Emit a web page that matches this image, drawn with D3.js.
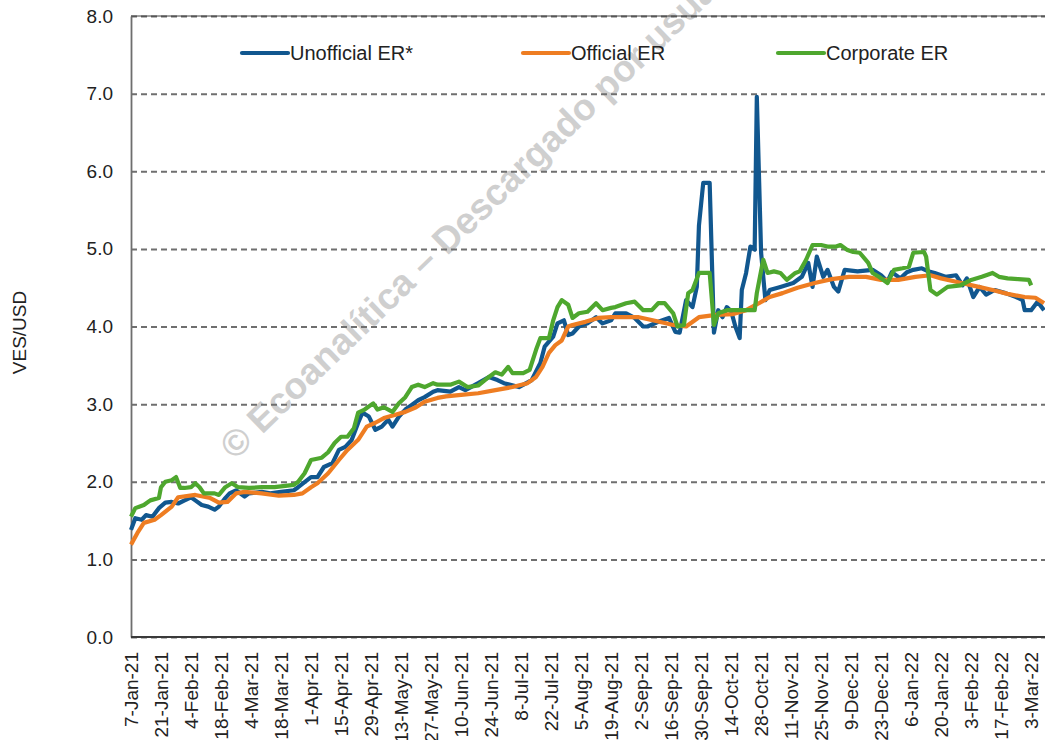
<!DOCTYPE html>
<html>
<head>
<meta charset="utf-8">
<script src="https://cdn.jsdelivr.net/npm/d3@7"></script>
<style>
  body { margin: 0; background: #fff; }
  svg { display: block; font-family: "Liberation Sans", Arial, sans-serif; }
</style>
</head>
<body>
<svg id="chart" width="1045" height="740"></svg>
<script>
// legend order = drawing order
const seriesNames = ["Unofficial ER*", "Official ER", "Corporate ER"];
const seriesColors = ["#11578f", "#ee7d22", "#4ea72e"];

const yTicks = [0, 1, 2, 3, 4, 5, 6, 7, 8];
const xTickDates = ["2021-01-07", "2021-01-21", "2021-02-04", "2021-02-18", "2021-03-04", "2021-03-18",
  "2021-04-01", "2021-04-15", "2021-04-29", "2021-05-13", "2021-05-27", "2021-06-10", "2021-06-24",
  "2021-07-08", "2021-07-22", "2021-08-05", "2021-08-19", "2021-09-02", "2021-09-16", "2021-09-30",
  "2021-10-14", "2021-10-28", "2021-11-11", "2021-11-25", "2021-12-09", "2021-12-23", "2022-01-06",
  "2022-01-20", "2022-02-03", "2022-02-17", "2022-03-03"];

const unofficialER = [
  ["2021-01-07", 1.38], ["2021-01-09", 1.53], ["2021-01-12", 1.51], ["2021-01-14", 1.57], ["2021-01-17", 1.55],
  ["2021-01-20", 1.66], ["2021-01-23", 1.73], ["2021-01-26", 1.74], ["2021-01-29", 1.72], ["2021-02-01", 1.76],
  ["2021-02-04", 1.80], ["2021-02-06", 1.76], ["2021-02-09", 1.70], ["2021-02-12", 1.68], ["2021-02-15", 1.64],
  ["2021-02-17", 1.68], ["2021-02-20", 1.79], ["2021-02-22", 1.85], ["2021-02-25", 1.89], ["2021-03-01", 1.81],
  ["2021-03-03", 1.85], ["2021-03-09", 1.87], ["2021-03-13", 1.85], ["2021-03-18", 1.87], ["2021-03-24", 1.89],
  ["2021-03-26", 1.93], ["2021-04-01", 2.06], ["2021-04-04", 2.06], ["2021-04-07", 2.19], ["2021-04-11", 2.24],
  ["2021-04-14", 2.41], ["2021-04-17", 2.45], ["2021-04-20", 2.54], ["2021-04-23", 2.76], ["2021-04-25", 2.89],
  ["2021-04-28", 2.84], ["2021-05-01", 2.67], ["2021-05-04", 2.71], ["2021-05-07", 2.80], ["2021-05-09", 2.71],
  ["2021-05-12", 2.84], ["2021-05-15", 2.93], ["2021-05-18", 2.99], ["2021-05-21", 3.05], ["2021-05-24", 3.09],
  ["2021-05-28", 3.16], ["2021-05-30", 3.18], ["2021-06-05", 3.16], ["2021-06-09", 3.22], ["2021-06-12", 3.18],
  ["2021-06-18", 3.27], ["2021-06-23", 3.35], ["2021-06-27", 3.31], ["2021-06-30", 3.27], ["2021-07-07", 3.22],
  ["2021-07-13", 3.31], ["2021-07-17", 3.53], ["2021-07-19", 3.74], ["2021-07-23", 3.87], ["2021-07-25", 4.04],
  ["2021-07-28", 4.08], ["2021-07-30", 3.89], ["2021-08-01", 3.91], ["2021-08-04", 4.00], ["2021-08-08", 4.04],
  ["2021-08-12", 4.12], ["2021-08-15", 4.04], ["2021-08-19", 4.08], ["2021-08-21", 4.17], ["2021-08-26", 4.17],
  ["2021-08-30", 4.11], ["2021-09-03", 4.00], ["2021-09-05", 4.00], ["2021-09-10", 4.06], ["2021-09-15", 4.11],
  ["2021-09-18", 3.93], ["2021-09-20", 3.92], ["2021-09-23", 4.34], ["2021-09-26", 4.25], ["2021-09-28", 4.51],
  ["2021-09-29", 5.30], ["2021-10-01", 5.85], ["2021-10-04", 5.85], ["2021-10-06", 3.92], ["2021-10-08", 4.21],
  ["2021-10-10", 4.12], ["2021-10-12", 4.25], ["2021-10-14", 4.20], ["2021-10-16", 4.00], ["2021-10-18", 3.85],
  ["2021-10-19", 4.47], ["2021-10-21", 4.69], ["2021-10-23", 5.03], ["2021-10-25", 4.99], ["2021-10-26", 6.96],
  ["2021-10-28", 4.95], ["2021-10-30", 4.34], ["2021-11-01", 4.47], ["2021-11-06", 4.51], ["2021-11-12", 4.56],
  ["2021-11-16", 4.64], ["2021-11-19", 4.82], ["2021-11-21", 4.51], ["2021-11-23", 4.90], ["2021-11-26", 4.64],
  ["2021-11-28", 4.73], ["2021-12-01", 4.51], ["2021-12-03", 4.45], ["2021-12-06", 4.73], ["2021-12-12", 4.71],
  ["2021-12-19", 4.73], ["2021-12-23", 4.66], ["2021-12-26", 4.58], ["2021-12-28", 4.70], ["2022-01-01", 4.62],
  ["2022-01-04", 4.70], ["2022-01-07", 4.73], ["2022-01-11", 4.75], ["2022-01-14", 4.71], ["2022-01-17", 4.69],
  ["2022-01-22", 4.64], ["2022-01-27", 4.66], ["2022-01-30", 4.53], ["2022-02-01", 4.62], ["2022-02-04", 4.38],
  ["2022-02-07", 4.51], ["2022-02-10", 4.41], ["2022-02-14", 4.47], ["2022-02-19", 4.43], ["2022-02-24", 4.38],
  ["2022-02-27", 4.34], ["2022-02-28", 4.21], ["2022-03-03", 4.21], ["2022-03-06", 4.32], ["2022-03-09", 4.21]
];

const officialER = [
  ["2021-01-07", 1.19], ["2021-01-10", 1.34], ["2021-01-13", 1.47], ["2021-01-18", 1.51], ["2021-01-21", 1.57],
  ["2021-01-26", 1.68], ["2021-01-29", 1.80], ["2021-02-06", 1.83], ["2021-02-13", 1.79], ["2021-02-17", 1.73],
  ["2021-02-21", 1.74], ["2021-02-25", 1.85], ["2021-03-01", 1.87], ["2021-03-09", 1.85], ["2021-03-17", 1.82],
  ["2021-03-24", 1.83], ["2021-03-28", 1.85], ["2021-04-01", 1.93], ["2021-04-04", 1.98], ["2021-04-09", 2.11],
  ["2021-04-14", 2.28], ["2021-04-18", 2.41], ["2021-04-23", 2.54], ["2021-04-27", 2.71], ["2021-05-01", 2.76],
  ["2021-05-05", 2.82], ["2021-05-10", 2.86], ["2021-05-15", 2.90], ["2021-05-20", 2.96], ["2021-05-24", 3.03],
  ["2021-05-30", 3.08], ["2021-06-03", 3.10], ["2021-06-10", 3.12], ["2021-06-18", 3.14], ["2021-06-26", 3.18],
  ["2021-07-04", 3.22], ["2021-07-11", 3.27], ["2021-07-15", 3.35], ["2021-07-18", 3.48], ["2021-07-21", 3.66],
  ["2021-07-24", 3.76], ["2021-07-27", 3.82], ["2021-07-30", 4.00], ["2021-08-01", 4.02], ["2021-08-07", 4.06],
  ["2021-08-13", 4.11], ["2021-08-19", 4.12], ["2021-08-24", 4.12], ["2021-09-01", 4.12], ["2021-09-09", 4.07],
  ["2021-09-17", 4.02], ["2021-09-23", 4.00], ["2021-09-29", 4.12], ["2021-10-07", 4.15], ["2021-10-15", 4.16],
  ["2021-10-21", 4.21], ["2021-10-27", 4.30], ["2021-11-01", 4.38], ["2021-11-07", 4.43], ["2021-11-14", 4.50],
  ["2021-11-22", 4.56], ["2021-11-30", 4.61], ["2021-12-08", 4.64], ["2021-12-16", 4.64], ["2021-12-23", 4.60],
  ["2021-12-31", 4.60], ["2022-01-08", 4.64], ["2022-01-15", 4.66], ["2022-01-20", 4.62], ["2022-01-28", 4.57],
  ["2022-02-05", 4.52], ["2022-02-13", 4.47], ["2022-02-20", 4.42], ["2022-02-28", 4.38], ["2022-03-05", 4.37],
  ["2022-03-09", 4.30]
];

const corporateER = [
  ["2021-01-07", 1.55], ["2021-01-09", 1.66], ["2021-01-13", 1.70], ["2021-01-16", 1.76], ["2021-01-20", 1.79],
  ["2021-01-21", 1.93], ["2021-01-23", 2.00], ["2021-01-26", 2.02], ["2021-01-28", 2.06], ["2021-01-30", 1.92],
  ["2021-02-01", 1.92], ["2021-02-04", 1.93], ["2021-02-06", 1.98], ["2021-02-08", 1.93], ["2021-02-10", 1.85],
  ["2021-02-15", 1.85], ["2021-02-17", 1.83], ["2021-02-20", 1.93], ["2021-02-23", 1.98], ["2021-02-26", 1.93],
  ["2021-03-03", 1.92], ["2021-03-09", 1.93], ["2021-03-15", 1.93], ["2021-03-24", 1.96], ["2021-03-26", 2.00],
  ["2021-03-29", 2.11], ["2021-04-01", 2.28], ["2021-04-06", 2.31], ["2021-04-09", 2.38], ["2021-04-12", 2.50],
  ["2021-04-15", 2.58], ["2021-04-18", 2.58], ["2021-04-21", 2.69], ["2021-04-23", 2.89], ["2021-04-26", 2.93],
  ["2021-04-30", 3.01], ["2021-05-02", 2.93], ["2021-05-05", 2.96], ["2021-05-09", 2.90], ["2021-05-12", 3.01],
  ["2021-05-15", 3.09], ["2021-05-18", 3.22], ["2021-05-21", 3.25], ["2021-05-24", 3.22], ["2021-05-28", 3.27],
  ["2021-05-30", 3.25], ["2021-06-05", 3.25], ["2021-06-09", 3.29], ["2021-06-13", 3.22], ["2021-06-18", 3.24],
  ["2021-06-23", 3.35], ["2021-06-26", 3.41], ["2021-06-29", 3.38], ["2021-07-02", 3.48], ["2021-07-04", 3.40],
  ["2021-07-09", 3.40], ["2021-07-12", 3.44], ["2021-07-15", 3.70], ["2021-07-17", 3.85], ["2021-07-21", 3.85],
  ["2021-07-23", 4.08], ["2021-07-25", 4.25], ["2021-07-27", 4.34], ["2021-07-30", 4.28], ["2021-08-01", 4.11],
  ["2021-08-04", 4.17], ["2021-08-08", 4.19], ["2021-08-12", 4.30], ["2021-08-15", 4.21], ["2021-08-19", 4.24],
  ["2021-08-21", 4.25], ["2021-08-26", 4.30], ["2021-08-30", 4.32], ["2021-09-03", 4.21], ["2021-09-07", 4.21],
  ["2021-09-10", 4.30], ["2021-09-13", 4.30], ["2021-09-17", 4.17], ["2021-09-19", 4.00], ["2021-09-22", 4.02],
  ["2021-09-24", 4.43], ["2021-09-26", 4.47], ["2021-09-29", 4.69], ["2021-10-04", 4.69], ["2021-10-06", 4.02],
  ["2021-10-08", 4.17], ["2021-10-12", 4.21], ["2021-10-18", 4.21], ["2021-10-21", 4.21], ["2021-10-25", 4.21],
  ["2021-10-26", 4.43], ["2021-10-29", 4.86], ["2021-10-31", 4.69], ["2021-11-03", 4.71], ["2021-11-06", 4.69],
  ["2021-11-09", 4.60], ["2021-11-13", 4.69], ["2021-11-15", 4.71], ["2021-11-18", 4.86], ["2021-11-21", 5.05],
  ["2021-11-25", 5.05], ["2021-11-28", 5.03], ["2021-12-02", 5.03], ["2021-12-04", 5.05], ["2021-12-07", 4.99],
  ["2021-12-10", 4.96], ["2021-12-13", 4.95], ["2021-12-17", 4.82], ["2021-12-19", 4.69], ["2021-12-22", 4.64],
  ["2021-12-26", 4.56], ["2021-12-29", 4.73], ["2022-01-02", 4.75], ["2022-01-05", 4.77], ["2022-01-07", 4.95],
  ["2022-01-12", 4.96], ["2022-01-13", 4.90], ["2022-01-15", 4.47], ["2022-01-18", 4.41], ["2022-01-23", 4.51],
  ["2022-01-29", 4.53], ["2022-02-03", 4.60], ["2022-02-08", 4.64], ["2022-02-13", 4.69], ["2022-02-16", 4.64],
  ["2022-02-20", 4.62], ["2022-02-25", 4.61], ["2022-03-02", 4.60], ["2022-03-03", 4.53]
];

const parseDate = d3.timeParse("%Y-%m-%d");
const fmtTick = d3.timeFormat("%-d-%b-%y");

const plotLeft = 131, plotRight = 1045, plotTop = 16, plotBottom = 637;

const svg = d3.select("#chart");

const x = d3.scaleTime()
  .domain([parseDate("2021-01-07"), parseDate("2022-03-09")])
  .range([plotLeft, 1044]);

const y = d3.scaleLinear()
  .domain([0, 8])
  .range([plotBottom, plotTop]);

// watermark
svg.append("text")
  .attr("transform", "translate(235,461) rotate(-44)")
  .attr("font-size", 37)
  .attr("font-weight", "bold")
  .attr("fill", "#cfcfcf")
  .text("© Ecoanalítica – Descargado por usuario");

// dashed gridlines
const grid = svg.append("g")
  .attr("transform", `translate(${plotLeft},0)`)
  .call(d3.axisLeft(y).tickValues(yTicks).tickSize(-(plotRight - plotLeft)).tickFormat(""));
grid.select(".domain").remove();
grid.selectAll("line")
  .attr("stroke", "#6f6f6f")
  .attr("stroke-width", 2)
  .attr("stroke-dasharray", "6,4");

svg.append("line")
  .attr("x1", plotLeft).attr("x2", plotRight)
  .attr("y1", y(8)).attr("y2", y(8))
  .attr("stroke", "#404040").attr("stroke-width", 1);

// y axis
const yAxis = svg.append("g")
  .attr("transform", `translate(${plotLeft},0)`)
  .call(d3.axisLeft(y).tickValues(yTicks).tickSize(0).tickPadding(18).tickFormat(d3.format(".1f")));
yAxis.select(".domain").attr("stroke", "#6e6e6e").attr("stroke-width", 1.8);
yAxis.selectAll("text").attr("font-size", 19).attr("fill", "#222").attr("font-family", "Liberation Sans, Arial, sans-serif");

svg.append("text")
  .attr("transform", `translate(26,${(plotTop + plotBottom) / 2 + 6}) rotate(-90)`)
  .attr("text-anchor", "middle")
  .attr("font-size", 19)
  .attr("fill", "#222")
  .text("VES/USD");

// x axis
const xAxis = svg.append("g")
  .attr("transform", `translate(0,${plotBottom})`)
  .call(d3.axisBottom(x).tickValues(xTickDates.map(parseDate)).tickSize(0).tickFormat(fmtTick));
xAxis.select(".domain").attr("stroke", "#3a3a3a").attr("stroke-width", 2)
  .attr("d", `M${plotLeft},0H${plotRight}`);
xAxis.selectAll("text")
  .attr("transform", "rotate(-90)")
  .attr("text-anchor", "end")
  .attr("x", -15)
  .attr("y", 0)
  .attr("dy", "0.35em")
  .attr("font-size", 19)
  .attr("fill", "#222")
  .attr("font-family", "Liberation Sans, Arial, sans-serif");

// lines
const line = d3.line()
  .x(d => x(parseDate(d[0])))
  .y(d => y(d[1]));

const seriesData = [unofficialER, officialER, corporateER];
svg.append("g")
  .selectAll("path")
  .data(seriesData)
  .join("path")
  .attr("d", line)
  .attr("fill", "none")
  .attr("stroke", (d, i) => seriesColors[i])
  .attr("stroke-width", 4.2)
  .attr("stroke-linejoin", "round");

// legend
const legendX = [242, 523, 778];
const legend = svg.append("g")
  .selectAll("g")
  .data(seriesNames)
  .join("g")
  .attr("transform", (d, i) => `translate(${legendX[i]},53)`);
legend.append("line")
  .attr("x1", 0).attr("x2", 46)
  .attr("stroke", (d, i) => seriesColors[i])
  .attr("stroke-width", 4.2)
  .attr("stroke-linecap", "round");
legend.append("text")
  .attr("x", 48)
  .attr("dy", "0.35em")
  .attr("font-size", 20)
  .attr("fill", "#222")
  .text(d => d);
</script>
</body>
</html>
